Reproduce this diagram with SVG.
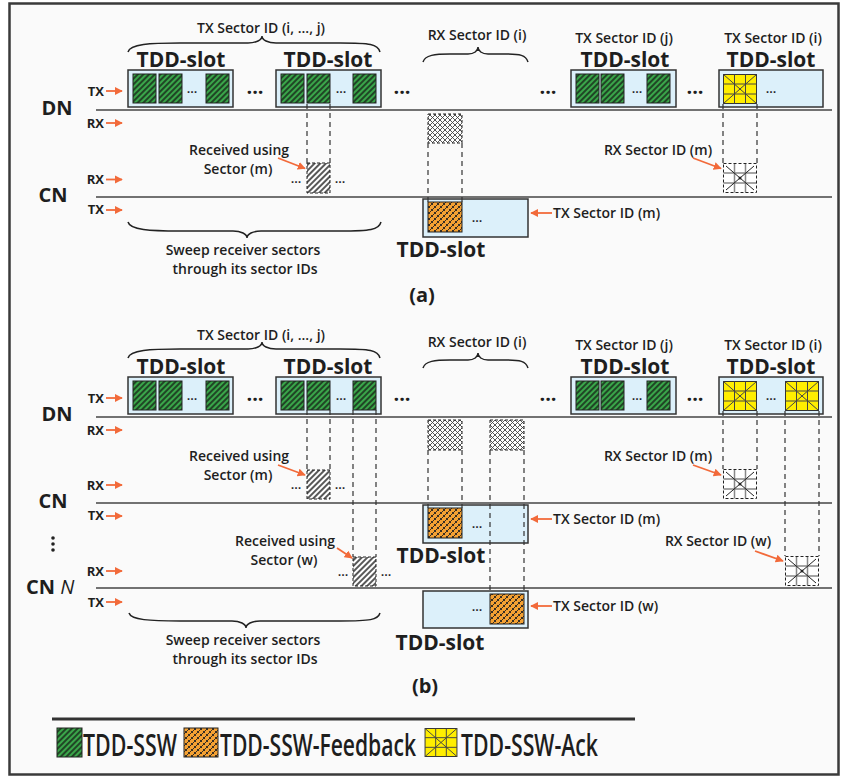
<svg xmlns="http://www.w3.org/2000/svg" width="842" height="777" viewBox="0 0 842 777">
<defs>
<style>
text{font-family:'Open Sans','Noto Sans','DejaVu Sans',sans-serif;fill:#1e1e1e}
.s{font-size:14px;font-weight:600}
.m{font-size:14px;font-weight:600;text-anchor:middle}
.big{font-size:21px;font-weight:700;text-anchor:middle}
.node{font-size:20px;font-weight:700;text-anchor:middle}
.lab{font-size:13px;font-weight:700;text-anchor:end}
.d{font-size:13px;font-weight:600;text-anchor:middle}
.bd{font-size:20px;font-weight:700;text-anchor:middle}
.leg{font-size:21px;font-weight:600}
.slot{fill:#dcf0fa;stroke:#333;stroke-width:1.5}
.g{fill:url(#gh);stroke:#222;stroke-width:1}
.rh{fill:url(#rh);stroke:#222;stroke-width:1;stroke-dasharray:3 2}
.xh{fill:url(#xh);stroke:#222;stroke-width:1;stroke-dasharray:3 2}
.or{fill:url(#oh);stroke:#222;stroke-width:1}
.tl{stroke:#444;stroke-width:1.5}
.dash{stroke:#333;stroke-width:1.2;stroke-dasharray:5 4;fill:none}
.arr{stroke:#f26a3a;stroke-width:1.8;fill:none;marker-end:url(#ah)}
.br{fill:none;stroke:#222;stroke-width:1.5}
</style>
<marker id="ah" viewBox="0 0 10 10" refX="9" refY="5" markerWidth="4.5" markerHeight="4.5" orient="auto"><path d="M0,0 L10,5 L0,10 z" fill="#f26a3a"/></marker>
<pattern id="gh" patternUnits="userSpaceOnUse" width="4" height="4" patternTransform="rotate(45)"><rect width="4" height="4" fill="#3aa64a"/><line x1="2" y1="0" x2="2" y2="4" stroke="#111" stroke-width="1.3"/></pattern>
<pattern id="rh" patternUnits="userSpaceOnUse" width="4" height="4" patternTransform="rotate(45)"><rect width="4" height="4" fill="#fff"/><line x1="2" y1="0" x2="2" y2="4" stroke="#111" stroke-width="1.4"/></pattern>
<pattern id="xh" patternUnits="userSpaceOnUse" width="5" height="5"><rect width="5" height="5" fill="#fff"/><path d="M0,0 L5,5 M5,0 L0,5" stroke="#444" stroke-width="0.9"/></pattern>
<pattern id="oh" patternUnits="userSpaceOnUse" width="6" height="6"><rect width="6" height="6" fill="#f4a133"/><path d="M0,0 L6,6 M6,0 L0,6" stroke="#222" stroke-width="0.9"/><path d="M-1,4 L4,-1 M2,7 L7,2" stroke="#f4a133" stroke-width="1.3"/></pattern>
<symbol id="ack" viewBox="0 0 34 30" overflow="visible"><rect x="0.5" y="0.5" width="33" height="29" fill="#ffee00" stroke="#333" stroke-width="1"/><path d="M11.5,0.5V29.5M22.5,0.5V29.5M0.5,10H33.5M0.5,20H33.5M0.5,0.5L33.5,29.5M33.5,0.5L0.5,29.5" stroke="#444" stroke-width="1" fill="none"/></symbol>
<symbol id="ackrx" viewBox="0 0 34 30" overflow="visible"><rect x="0.5" y="0.5" width="33" height="29" fill="#fff"/><path d="M11.5,0.5V29.5M22.5,0.5V29.5M0.5,10H33.5M0.5,20H33.5" stroke="#888" stroke-width="1.5" fill="none"/><path d="M3,3L31,27M31,3L3,27" stroke="#222" stroke-width="1" fill="none"/><circle cx="17" cy="15" r="1.5" fill="#222"/><rect x="0.5" y="0.5" width="33" height="29" fill="none" stroke="#222" stroke-width="1" stroke-dasharray="3 2"/></symbol>
</defs>

<rect x="0" y="0" width="842" height="777" fill="#ffffff"/>
<rect x="9.5" y="3.5" width="829" height="771" fill="#fafafa" stroke="#3a3a3a" stroke-width="2.5"/>

<!-- ================= (a) ================= -->
<g id="a-timelines">
<line class="tl" x1="96" y1="110" x2="832" y2="110"/>
<line class="tl" x1="96" y1="197" x2="832" y2="197"/>
</g>
<g id="a-labels">
<text class="node" x="57" y="115">DN</text>
<text class="node" x="53" y="202">CN</text>
<text class="lab" x="104" y="96">TX</text>
<text class="lab" x="104" y="128">RX</text>
<text class="lab" x="104" y="184">RX</text>
<text class="lab" x="104" y="214">TX</text>
</g>
<g id="a-dn-slot1">
<rect class="slot" x="128" y="70" width="105" height="37"/>
<rect class="g" x="133" y="74" width="23" height="29"/>
<rect class="g" x="159" y="74" width="23" height="29"/>
<text class="d" x="192" y="93">...</text>
<rect class="g" x="206" y="74" width="23" height="29"/>
<text class="big" x="181" y="67">TDD-slot</text>
</g>
<g id="a-dn-slot2">
<rect class="slot" x="276" y="70" width="105" height="37"/>
<rect class="g" x="281" y="74" width="23" height="29"/>
<rect class="g" x="307" y="74" width="23" height="29"/>
<text class="d" x="341" y="93">...</text>
<rect class="g" x="353" y="74" width="23" height="29"/>
<text class="big" x="328" y="67">TDD-slot</text>
</g>
<g id="a-dn-slot3">
<rect class="slot" x="571" y="70" width="105" height="37"/>
<rect class="g" x="576" y="74" width="23" height="29"/>
<rect class="g" x="601" y="74" width="23" height="29"/>
<text class="d" x="637" y="93">...</text>
<rect class="g" x="647" y="74" width="23" height="29"/>
<text class="big" x="625" y="67">TDD-slot</text>
<text class="m" x="624" y="43">TX Sector ID (j)</text>
</g>
<g id="a-dn-slot4">
<rect class="slot" x="719" y="70" width="104" height="37"/>
<use href="#ack" x="723" y="74" width="34" height="30"/>
<text class="d" x="771" y="93">...</text>
<text class="big" x="771" y="67">TDD-slot</text>
<text class="m" x="773" y="43">TX Sector ID (i)</text>
</g>
<g id="a-dots">
<text class="bd" x="255" y="94">...</text>
<text class="bd" x="402" y="94">...</text>
<text class="bd" x="548" y="94">...</text>
<text class="bd" x="695" y="94">...</text>
</g>
<g id="a-txbrace">
<path class="br" d="M128,52 C130,44 150,43 180,43 L248,43 C256,43 262,40 262,36 C262,40 268,43 276,43 L340,43 C370,43 378,44 380,52"/>
<text class="m" x="261" y="33">TX Sector ID (i, ..., j)</text>
</g>
<g id="a-rxbrace">
<path class="br" d="M423,62 C425,55 435,54 450,54 L468,54 C474,54 478,51 478,47 C478,51 482,54 488,54 L505,54 C520,54 526,55 528,62"/>
<text class="m" x="477" y="40">RX Sector ID (i)</text>
<rect class="xh" x="428" y="114" width="34" height="29"/>
</g>
<g id="a-cn-rx">
<rect class="rh" x="307" y="163" width="23" height="30"/>
<text class="d" x="296" y="183">...</text>
<text class="d" x="340" y="183">...</text>
<text class="m" x="239" y="155">Received using</text>
<text class="m" x="238" y="174">Sector (m)</text>
</g>
<g id="a-cn-tx">
<rect class="slot" x="423" y="199" width="105" height="38"/>
<rect class="or" x="428" y="202" width="34" height="30"/>
<text class="d" x="477" y="222">...</text>
<text class="big" x="441" y="257">TDD-slot</text>
<text class="s" x="553" y="218">TX Sector ID (m)</text>
</g>
<g id="a-ack-rx">
<use href="#ackrx" x="723" y="163" width="34" height="30"/>
<text class="m" x="658" y="155">RX Sector ID (m)</text>
</g>
<g id="a-sweep">
<path class="br" d="M128,222 C130,230 150,231 180,231 L233,231 C241,231 247,234 247,238 C247,234 253,231 261,231 L340,231 C370,231 379,230 381,222"/>
<text class="m" x="243" y="255">Sweep receiver sectors</text>
<text class="m" x="245" y="274">through its sector IDs</text>
</g>
<text class="node" x="422" y="302">(a)</text>

<g id="a-connectors">
<path class="dash" d="M307,104V163M330,104V163M428,143V202M462,143V202M723,104V163M757,104V163"/>
<path class="arr" d="M106,91H122"/>
<path class="arr" d="M106,123H122"/>
<path class="arr" d="M106,179.5H122"/>
<path class="arr" d="M106,210H122"/>
<path class="arr" d="M278,158L305,168.5"/>
<path class="arr" d="M693,158L721,168.5"/>
<path class="arr" d="M552,213H531"/>
</g>

<!-- ================= (b) ================= -->
<g id="b-timelines">
<line class="tl" x1="96" y1="417" x2="832" y2="417"/>
<line class="tl" x1="96" y1="503" x2="832" y2="503"/>
<line class="tl" x1="96" y1="588" x2="832" y2="588"/>
</g>
<g id="b-labels">
<text class="node" x="57" y="421">DN</text>
<text class="node" x="53" y="508">CN</text>
<text class="node" x="26" y="594" style="text-anchor:start">CN <tspan font-style="italic" font-weight="400">N</tspan></text>
<circle cx="53" cy="538" r="1.8" fill="#222"/>
<circle cx="53" cy="544" r="1.8" fill="#222"/>
<circle cx="53" cy="550" r="1.8" fill="#222"/>
<text class="lab" x="104" y="403">TX</text>
<text class="lab" x="104" y="435">RX</text>
<text class="lab" x="104" y="490">RX</text>
<text class="lab" x="104" y="520">TX</text>
<text class="lab" x="104" y="576">RX</text>
<text class="lab" x="104" y="607">TX</text>
</g>
<g id="b-dn-slot1">
<rect class="slot" x="128" y="377" width="105" height="37"/>
<rect class="g" x="133" y="381" width="23" height="29"/>
<rect class="g" x="159" y="381" width="23" height="29"/>
<text class="d" x="192" y="400">...</text>
<rect class="g" x="206" y="381" width="23" height="29"/>
<text class="big" x="181" y="374">TDD-slot</text>
</g>
<g id="b-dn-slot2">
<rect class="slot" x="276" y="377" width="105" height="37"/>
<rect class="g" x="281" y="381" width="23" height="29"/>
<rect class="g" x="307" y="381" width="23" height="29"/>
<text class="d" x="341" y="400">...</text>
<rect class="g" x="353" y="381" width="23" height="29"/>
<text class="big" x="328" y="374">TDD-slot</text>
</g>
<g id="b-dn-slot3">
<rect class="slot" x="571" y="377" width="105" height="37"/>
<rect class="g" x="576" y="381" width="23" height="29"/>
<rect class="g" x="601" y="381" width="23" height="29"/>
<text class="d" x="637" y="400">...</text>
<rect class="g" x="647" y="381" width="23" height="29"/>
<text class="big" x="625" y="374">TDD-slot</text>
<text class="m" x="624" y="350">TX Sector ID (j)</text>
</g>
<g id="b-dn-slot4">
<rect class="slot" x="719" y="377" width="104" height="37"/>
<use href="#ack" x="723" y="381" width="34" height="30"/>
<text class="d" x="771" y="400">...</text>
<use href="#ack" x="785" y="381" width="34" height="30"/>
<text class="big" x="771" y="374">TDD-slot</text>
<text class="m" x="773" y="350">TX Sector ID (i)</text>
</g>
<g id="b-dots">
<text class="bd" x="255" y="401">...</text>
<text class="bd" x="402" y="401">...</text>
<text class="bd" x="548" y="401">...</text>
<text class="bd" x="695" y="401">...</text>
</g>
<g id="b-txbrace">
<path class="br" d="M128,358 C130,350 150,349 180,349 L248,349 C256,349 262,346 262,342 C262,346 268,349 276,349 L340,349 C370,349 378,350 380,358"/>
<text class="m" x="261" y="340">TX Sector ID (i, ..., j)</text>
</g>
<g id="b-rxbrace">
<path class="br" d="M423,368 C425,361 435,360 450,360 L468,360 C474,360 478,357 478,353 C478,357 482,360 488,360 L505,360 C520,360 526,361 528,368"/>
<text class="m" x="477" y="347">RX Sector ID (i)</text>
<rect class="xh" x="428" y="420" width="34" height="30"/>
<rect class="xh" x="490" y="420" width="34" height="30"/>
</g>
<g id="b-cn-rx">
<rect class="rh" x="307" y="470" width="23" height="29"/>
<text class="d" x="296" y="489">...</text>
<text class="d" x="340" y="489">...</text>
<text class="m" x="239" y="461">Received using</text>
<text class="m" x="238" y="480">Sector (m)</text>
</g>
<g id="b-cn-tx">
<rect class="slot" x="423" y="505" width="105" height="38"/>
<rect class="or" x="428" y="508" width="34" height="30"/>
<text class="d" x="477" y="528">...</text>
<text class="big" x="441" y="563">TDD-slot</text>
<text class="s" x="553" y="524">TX Sector ID (m)</text>
</g>
<g id="b-cnN-rx">
<rect class="rh" x="353" y="557" width="23" height="29"/>
<text class="d" x="343" y="576">...</text>
<text class="d" x="386" y="576">...</text>
<text class="m" x="285" y="546">Received using</text>
<text class="m" x="284" y="565">Sector (w)</text>
</g>
<g id="b-cnN-tx">
<rect class="slot" x="423" y="591" width="105" height="37"/>
<rect class="or" x="490" y="594" width="34" height="30"/>
<text class="d" x="477" y="611">...</text>
<text class="big" x="440" y="650">TDD-slot</text>
<text class="s" x="553" y="611">TX Sector ID (w)</text>
</g>
<g id="b-ack-rx-m">
<use href="#ackrx" x="723" y="469" width="34" height="30"/>
<text class="m" x="658" y="461">RX Sector ID (m)</text>
</g>
<g id="b-ack-rx-w">
<use href="#ackrx" x="785" y="556" width="34" height="30"/>
<text class="m" x="718" y="546">RX Sector ID (w)</text>
</g>
<g id="b-sweep">
<path class="br" d="M129,613 C131,620 150,621 180,621 L232,621 C240,621 246,624 246,628 C246,624 252,621 260,621 L340,621 C370,621 378,620 380,613"/>
<text class="m" x="243" y="645">Sweep receiver sectors</text>
<text class="m" x="245" y="664">through its sector IDs</text>
</g>
<text class="node" x="425" y="693">(b)</text>

<g id="b-connectors">
<path class="dash" d="M307,410V470M330,410V470M353,410V557M376,410V557M428,450V508M462,450V508M490,450V594M524,450V594M723,411V469M757,411V469M785,411V556M819,411V556"/>
<path class="arr" d="M106,398H122"/>
<path class="arr" d="M106,430H122"/>
<path class="arr" d="M106,485H122"/>
<path class="arr" d="M106,516H122"/>
<path class="arr" d="M106,571H122"/>
<path class="arr" d="M106,602H122"/>
<path class="arr" d="M278,465L305,475"/>
<path class="arr" d="M337,548L352,558"/>
<path class="arr" d="M693,465L721,475"/>
<path class="arr" d="M755,551L783,561"/>
<path class="arr" d="M552,519H531"/>
<path class="arr" d="M552,606H531"/>
</g>

<!-- ================= legend ================= -->
<g id="legend">
<line x1="52" y1="719" x2="635" y2="719" stroke="#333" stroke-width="3"/>
<rect class="g" x="57" y="728" width="25" height="29"/>
<text class="leg" transform="translate(83,756) scale(1,1.42)" textLength="94" lengthAdjust="spacingAndGlyphs">TDD-SSW</text>
<rect class="or" x="184" y="728" width="34" height="29"/>
<text class="leg" transform="translate(220,756) scale(1,1.42)" textLength="196" lengthAdjust="spacingAndGlyphs">TDD-SSW-Feedback</text>
<use href="#ack" x="424" y="728" width="34" height="29"/>
<text class="leg" transform="translate(461,756) scale(1,1.42)" textLength="137" lengthAdjust="spacingAndGlyphs">TDD-SSW-Ack</text>
</g>
</svg>
